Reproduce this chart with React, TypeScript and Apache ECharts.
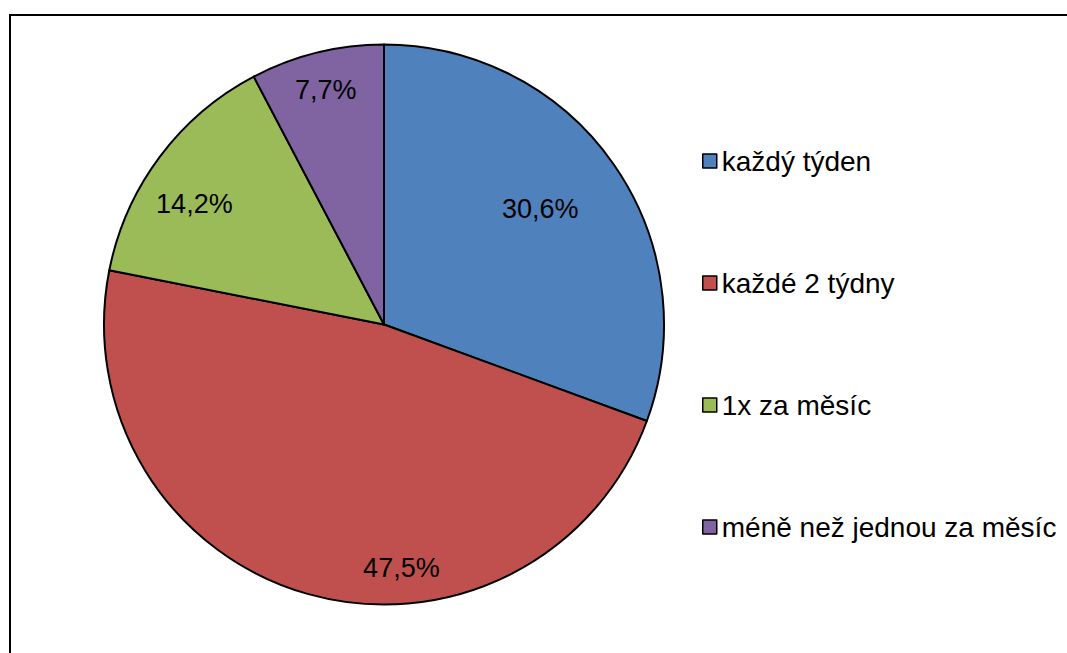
import React, { useEffect, useRef } from "react";
import * as echarts from "echarts";

const categories = ["každý týden", "každé 2 týdny", "1x za měsíc", "méně než jednou za měsíc"];
const values = [30.6, 47.5, 14.2, 7.7];
const colors = ["#4F81BD", "#C0504D", "#9BBB59", "#8064A2"];
const labelOffsets: [number, number][] = [
  [39, -34],
  [56, 106],
  [-75, -35],
  [-24, -96],
];

export default function App() {
  const ref = useRef<HTMLDivElement>(null);
  useEffect(() => {
    if (!ref.current) return;
    const chart = echarts.init(ref.current, null, { renderer: "svg" });
    const font = "'Liberation Sans', Arial, sans-serif";
    chart.setOption({
      animation: false,
      backgroundColor: "#ffffff",
      graphic: [
        {
          type: "rect",
          shape: { x: 10, y: 15, width: 1100, height: 700 },
          style: { fill: "none", stroke: "#000", lineWidth: 2 },
          silent: true,
        },
      ],
      legend: {
        orient: "vertical",
        left: 697,
        top: 141,
        itemWidth: 14,
        itemHeight: 14,
        itemGap: 92,
        icon: "rect",
        itemStyle: { borderColor: "#000", borderWidth: 1.5 },
        textStyle: {
          fontFamily: font,
          fontSize: 28,
          color: "#000",
          lineHeight: 30,
        },
        data: categories,
      },
      series: [
        {
          type: "pie",
          center: [384, 324.5],
          radius: 280,
          startAngle: 90,
          clockwise: true,
          avoidLabelOverlap: false,
          itemStyle: { borderColor: "#000", borderWidth: 2 },
          label: {
            show: true,
            position: "inside",
            fontFamily: font,
            fontSize: 27,
            color: "#000",
            formatter: (p: any) => p.value.toFixed(1).replace(".", ",") + "%",
          },
          labelLine: { show: false },
          emphasis: { disabled: true },
          data: categories.map((name, i) => ({
            name,
            value: values[i],
            itemStyle: { color: colors[i] },
            label: { offset: labelOffsets[i] },
          })),
        },
      ],
    });
    return () => chart.dispose();
  }, []);
  return (
    <div
      ref={ref}
      style={{ position: "fixed", left: 0, top: 0, width: 1067, height: 653 }}
    />
  );
}
